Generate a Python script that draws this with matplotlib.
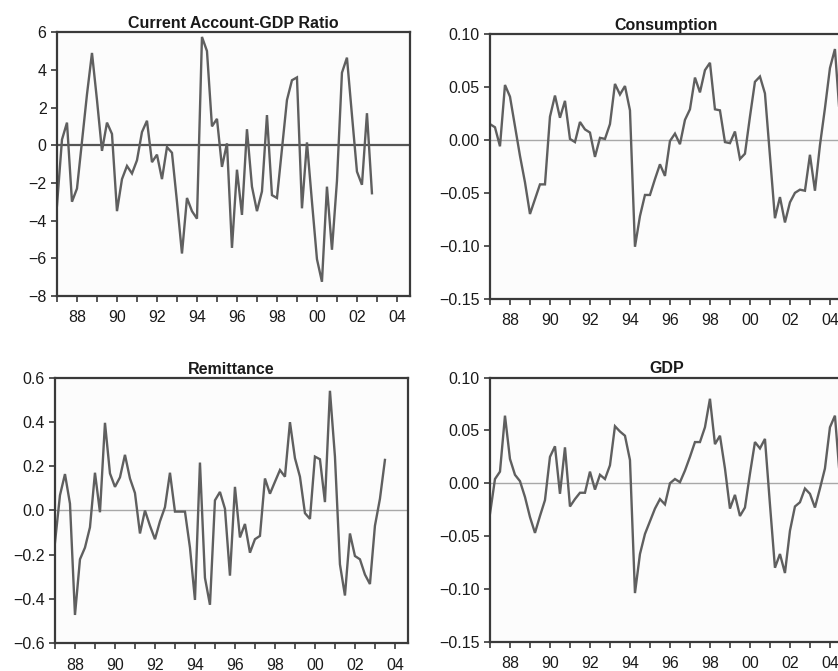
import numpy as np
import matplotlib
matplotlib.use("Agg")
import matplotlib.pyplot as plt
from matplotlib.ticker import FixedLocator, FuncFormatter

plt.rcParams['font.family'] = ['Liberation Sans', 'DejaVu Sans']

# quarterly series, first observation 1987Q1
START = 1987.0

ca_gdp = [-3.2, 0.3, 1.2, -3.0, -2.3, 0.2, 2.7, 4.9, 2.4, -0.3, 1.2, 0.6,
          -3.5, -1.8, -1.1, -1.5, -0.8, 0.7, 1.3, -0.9, -0.5, -1.8, -0.1, -0.4,
          -3.0, -5.75, -2.8, -3.5, -3.9, 5.75, 5.0, 1.0, 1.4, -1.15, 0.1, -5.45,
          -1.3, -3.7, 0.85, -2.2, -3.5, -2.45, 1.6, -2.65, -2.8, -0.2, 2.4, 3.45,
          3.6, -3.35, 0.15, -3.0, -6.05, -7.25, -2.2, -5.55, -1.9, 3.85, 4.65, 1.6,
          -1.4, -2.1, 1.7, -2.55]

consumption = [0.015, 0.012, -0.006, 0.052, 0.041, 0.013, -0.015, -0.040, -0.070, -0.056,
               -0.042, -0.042, 0.022, 0.042, 0.021, 0.037, 0.001, -0.002, 0.017, 0.010,
               0.007, -0.016, 0.002, 0.001, 0.015, 0.053, 0.043, 0.051, 0.028, -0.101,
               -0.072, -0.052, -0.052, -0.037, -0.023, -0.034, -0.001, 0.006, -0.004, 0.019,
               0.029, 0.059, 0.045, 0.066, 0.073, 0.029, 0.028, -0.002, -0.003, 0.008,
               -0.018, -0.013, 0.022, 0.055, 0.060, 0.044, -0.015, -0.074, -0.054, -0.078,
               -0.059, -0.050, -0.047, -0.048, -0.014, -0.048, -0.005, 0.030, 0.068, 0.086,
               0.020]

remittance = [-0.145, 0.069, 0.165, 0.031, -0.473, -0.221, -0.168, -0.076, 0.171, -0.008,
              0.397, 0.168, 0.107, 0.150, 0.252, 0.145, 0.079, -0.104, 0.0, -0.069,
              -0.130, -0.049, 0.015, 0.171, -0.005, -0.005, -0.005, -0.168, -0.405, 0.217,
              -0.305, -0.427, 0.046, 0.084, 0.008, -0.295, 0.107, -0.122, -0.061, -0.191,
              -0.130, -0.115, 0.145, 0.076, 0.130, 0.183, 0.153, 0.400, 0.237, 0.153,
              -0.012, -0.038, 0.244, 0.232, 0.038, 0.542, 0.244, -0.244, -0.385, -0.104,
              -0.206, -0.221, -0.290, -0.333, -0.069, 0.053, 0.229]

gdp = [-0.029, 0.004, 0.011, 0.064, 0.023, 0.008, 0.002, -0.013, -0.032, -0.047,
       -0.031, -0.016, 0.025, 0.035, -0.010, 0.034, -0.022, -0.015, -0.009, -0.009,
       0.011, -0.006, 0.008, 0.004, 0.017, 0.054, 0.049, 0.045, 0.022, -0.104,
       -0.067, -0.048, -0.036, -0.024, -0.015, -0.020, 0.000, 0.004, 0.001, 0.012,
       0.025, 0.039, 0.039, 0.053, 0.080, 0.037, 0.045, 0.014, -0.024, -0.011,
       -0.031, -0.023, 0.009, 0.039, 0.033, 0.042, -0.020, -0.080, -0.067, -0.085,
       -0.045, -0.022, -0.018, -0.005, -0.010, -0.023, -0.005, 0.014, 0.053, 0.064,
       0.004]

years = list(range(1987, 2005))
label_years = [y for y in years if y % 2 == 0]

LINE = '#5f5f5f'
FRAME = '#3a3a3a'


def fmt_num(decimals):
    def f(v, pos):
        s = '%.*f' % (decimals, v)
        return s.replace('-', '\u2212')
    return FuncFormatter(f)


def panel(fig, rect, series, title, ylim, yticks, decimals, zero_style):
    ax = fig.add_axes(rect)
    ax.set_facecolor('#fcfcfc')
    x = START + np.arange(len(series)) / 4.0
    ax.axhline(0, **zero_style, zorder=1)
    ax.plot(x, series, color=LINE, lw=1.7, zorder=2, solid_joinstyle='miter')
    ax.set_xlim(START, 2004.65)
    ax.set_ylim(*ylim)
    ax.yaxis.set_major_locator(FixedLocator(yticks))
    ax.yaxis.set_major_formatter(fmt_num(decimals))
    ax.xaxis.set_major_locator(FixedLocator(label_years))
    ax.xaxis.set_minor_locator(FixedLocator([y for y in years if y % 2]))
    ax.xaxis.set_major_formatter(FuncFormatter(lambda v, p: '%02d' % (int(round(v)) % 100)))
    ax.tick_params(which='both', direction='out', length=4.5, width=1.2,
                   color=FRAME, labelsize=11.5, labelcolor='#1a1a1a')
    ax.tick_params(axis='x', pad=6)
    ax.tick_params(axis='y', pad=3)
    for s in ax.spines.values():
        s.set_color(FRAME)
        s.set_linewidth(1.6)
    ax.set_title(title, fontsize=11.5, fontweight='bold', pad=3, color='#1a1a1a')
    return ax


fig = plt.figure(figsize=(8.38, 6.71), dpi=100)

dark_zero = dict(color='#555555', lw=1.6)
light_zero = dict(color='#a8a8a8', lw=1.0)

panel(fig, [0.068, 0.559, 0.4212, 0.393], ca_gdp, 'Current Account-GDP Ratio',
      (-8, 6), [-8, -6, -4, -2, 0, 2, 4, 6], 0, dark_zero)
panel(fig, [0.5847, 0.555, 0.4212, 0.394], consumption, 'Consumption',
      (-0.15, 0.10), [-0.15, -0.10, -0.05, 0.0, 0.05, 0.10], 2, light_zero)
panel(fig, [0.0656, 0.0417, 0.4212, 0.395], remittance, 'Remittance',
      (-0.6, 0.6), [-0.6, -0.4, -0.2, 0.0, 0.2, 0.4, 0.6], 1, light_zero)
panel(fig, [0.5847, 0.0437, 0.4212, 0.3935], gdp, 'GDP',
      (-0.15, 0.10), [-0.15, -0.10, -0.05, 0.0, 0.05, 0.10], 2, light_zero)

fig.savefig('out.png', dpi=100, facecolor='white')
